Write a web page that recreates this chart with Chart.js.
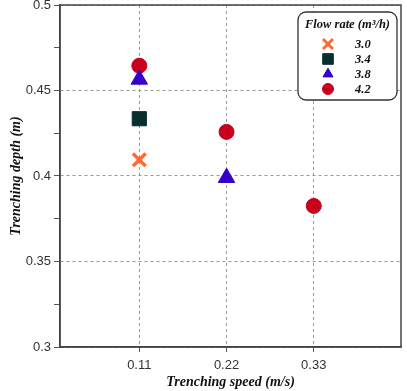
<!DOCTYPE html>
<html lang="en">
  <head>
    <meta charset="utf-8" />
    <title>Trenching depth vs speed</title>
    <script src="https://cdn.jsdelivr.net/npm/chart.js@4.4.0/dist/chart.umd.min.js"></script>
    <style>
      html, body { margin: 0; padding: 0; background: #fff; }
      #wrap { width: 407px; height: 391px; }
    </style>
  </head>
  <body>
    <div id="wrap"><canvas id="myChart" width="407" height="391"></canvas></div>

  <script>
    // flow rates (m3/h) and the points
    var flowRates = ["3.0", "3.4", "3.8", "4.2"];
    var speed30 = [0.11];
    var depth30 = [0.4095];
    var speed34 = [0.11];
    var depth34 = [0.4335];
    var speed38 = [0.11, 0.22];
    var depth38 = [0.4565, 0.399];
    var speed42 = [0.11, 0.22, 0.33];
    var depth42 = [0.4645, 0.4258, 0.3825];
    var xTicks = [0.11, 0.22, 0.33];

    var styles = [
      { shape: "crossRot", color: "#ff6a33", radius: 9, border: 3.5, legendR: 7 },
      { shape: "rect", color: "#06302d", radius: 10, border: 1, legendR: 7.5 },
      { shape: "triangle", color: "#3300cc", radius: 9.5, border: 1, legendR: 5.8 },
      { shape: "circle", color: "#c8001e", radius: 7.5, border: 1, legendR: 5.5 },
    ];

    let toPoints = (xs, ys) => xs.map((x, i) => ({ x: x, y: ys[i] }));
    let seriesData = [
      toPoints(speed30, depth30),
      toPoints(speed34, depth34),
      toPoints(speed38, depth38),
      toPoints(speed42, depth42),
    ];

    let serif = "'Liberation Serif', 'Times New Roman', serif";
    let sans = "'Liberation Sans', Arial, sans-serif";

    // frame around the plot + legend box in the upper right
    let framePlugin = {
      id: "frame",
      afterDatasetsDraw(chart) {
        let ctx = chart.ctx;
        let a = chart.chartArea;
        ctx.save();
        ctx.strokeStyle = "#444";
        ctx.lineWidth = 1.5;
        ctx.strokeRect(a.left, a.top, a.right - a.left, a.bottom - a.top);

        // legend
        let bx = 298, by = 12, bw = 99, bh = 88;
        ctx.beginPath();
        ctx.roundRect(bx, by, bw, bh, 8);
        ctx.fillStyle = "#fff";
        ctx.fill();
        ctx.lineWidth = 1.3;
        ctx.strokeStyle = "#333";
        ctx.stroke();

        ctx.fillStyle = "#111";
        ctx.font = "bold italic 12.5px " + serif;
        ctx.textAlign = "center";
        ctx.textBaseline = "middle";
        ctx.fillText("Flow rate (m\u00b3/h)", bx + bw / 2, by + 13);

        let rows = [44, 59, 74, 89];
        chart.data.datasets.forEach((ds, i) => {
          let s = styles[i];
          ctx.fillStyle = s.color;
          ctx.strokeStyle = s.color;
          ctx.lineWidth = s.shape === "crossRot" ? 3 : 1;
          Chart.helpers.drawPoint(ctx, {
            pointStyle: s.shape,
            radius: s.legendR,
            rotation: 0,
            borderWidth: ctx.lineWidth,
          }, 328, rows[i]);
          ctx.fillStyle = "#111";
          ctx.font = "bold italic 12.5px " + serif;
          ctx.textAlign = "left";
          ctx.fillText(ds.label, 355, rows[i] + 1);
        });
        ctx.restore();
      },
    };

    let myChart = new Chart(document.getElementById("myChart"), {
      type: "scatter",
      data: {
        datasets: flowRates.map((rate, i) => ({
          label: rate,
          data: seriesData[i],
          pointStyle: styles[i].shape,
          pointRadius: styles[i].radius,
          pointHoverRadius: styles[i].radius,
          pointBackgroundColor: styles[i].color,
          pointBorderColor: styles[i].color,
          pointBorderWidth: styles[i].border,
        })),
      },
      options: {
        responsive: false,
        animation: false,
        layout: { autoPadding: false, padding: { top: 5, right: 6, left: 0, bottom: 0 } },
        plugins: {
          legend: { display: false },
          tooltip: { enabled: false },
        },
        scales: {
          x: {
            type: "linear",
            min: 0.01,
            max: 0.44,
            afterBuildTicks: (scale) => {
              scale.ticks = xTicks.map((v) => ({ value: v }));
            },
            afterFit: (scale) => {
              scale.height = 44;
              scale.paddingLeft = 0;
              scale.paddingRight = 0;
            },
            ticks: {
              color: "#333",
              font: { family: sans, size: 13 },
              padding: 6,
              callback: (v) => String(v),
            },
            grid: {
              color: "#999",
              tickColor: "#555",
              tickLength: 5,
              lineWidth: 1,
            },
            border: { display: true, color: "#444", width: 1.5, dash: [3, 3] },
            title: {
              display: true,
              text: "Trenching speed (m/s)",
              color: "#111",
              font: { family: serif, size: 14, weight: "bold", style: "italic" },
              padding: { top: 0, bottom: 0 },
            },
          },
          y: {
            min: 0.3,
            max: 0.5,
            afterFit: (scale) => {
              scale.width = 60;
              scale.paddingTop = 0;
              scale.paddingBottom = 0;
            },
            ticks: {
              stepSize: 0.025,
              color: "#333",
              font: { family: sans, size: 13 },
              padding: 3,
              callback: (v) => {
                let r = Math.round(v * 1000);
                return r % 50 === 0 ? String(r / 1000) : "";
              },
            },
            grid: {
              color: (ctx) => {
                let r = Math.round(ctx.tick.value * 1000);
                return r % 50 === 0 ? "#999" : "rgba(0,0,0,0)";
              },
              tickColor: "#555",
              tickLength: 6,
              lineWidth: 1,
            },
            border: { display: true, color: "#444", width: 1.5, dash: [3, 3] },
            title: {
              display: true,
              text: "Trenching depth (m)",
              color: "#111",
              font: { family: serif, size: 14, weight: "bold", style: "italic" },
              padding: { top: 8, bottom: 4 },
            },
          },
        },
      },
      plugins: [framePlugin],
    });
  </script>
  </body>
</html>
